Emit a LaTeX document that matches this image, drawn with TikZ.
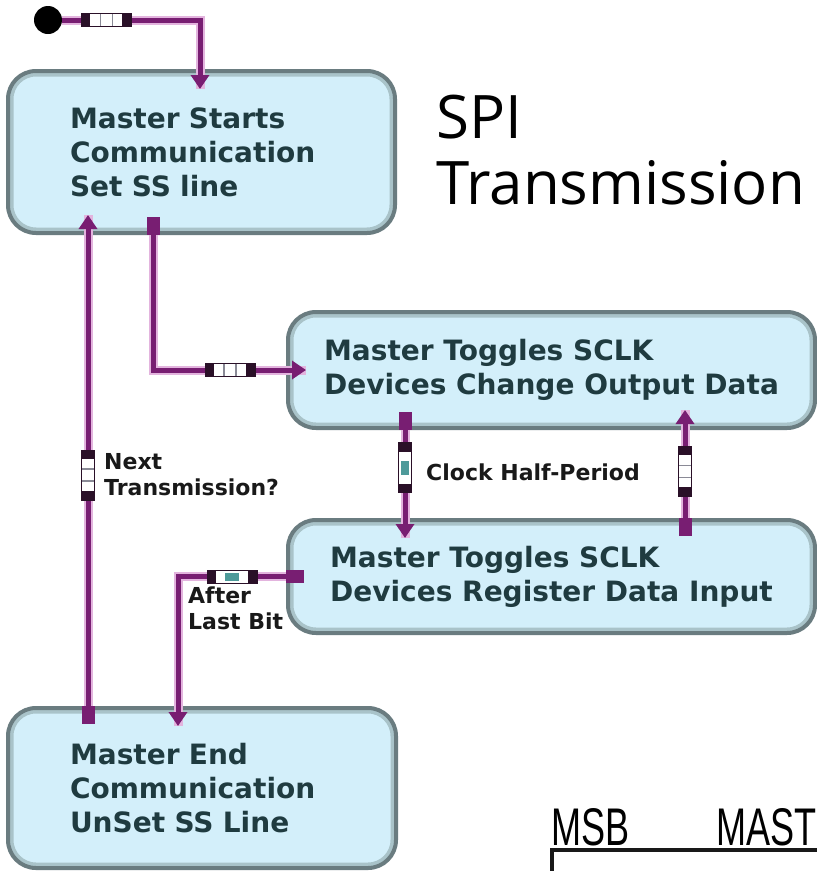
\documentclass[tikz,border=0pt]{standalone}
\usepackage{fontspec}
\setmainfont{DejaVu Sans}
\newfontfamily\titlefont{Open Sans}
\newfontfamily\condfont{Liberation Sans}
\usetikzlibrary{arrows.meta}
\definecolor{boxfill}{HTML}{D3EFFA}
\definecolor{boxedge}{HTML}{6A7C80}
\definecolor{boxrim}{HTML}{A9C3C9}
\definecolor{connc}{HTML}{781E72}
\definecolor{glow}{HTML}{E3B4DE}
\definecolor{markdark}{HTML}{2A1028}
\definecolor{markteal}{HTML}{4E9A9A}
\definecolor{markgray}{HTML}{8A8A96}
\definecolor{txt}{HTML}{1F3B40}
\begin{document}
\begin{tikzpicture}[x=1pt,y=-1pt,
  box/.style={draw=boxedge, line width=4pt, fill=boxfill, rounded corners=28pt,
    inner sep=0pt, font=\fontsize{28}{34}\selectfont\bfseries, text=txt, align=left,
    path picture={\draw[boxrim, line width=11pt, rounded corners=28pt]
      (path picture bounding box.south west) rectangle (path picture bounding box.north east);}},
  lbl/.style={inner sep=0pt, font=\fontsize{22}{26}\selectfont\bfseries, text=black!90, align=left},
  conn/.style={draw=connc, line width=5pt, preaction={draw=glow, line width=9pt, arrows=-}},
  tipend/.style={-{Triangle[width=18pt,length=14pt]}, shorten >=-20pt},
  tipboth/.style={{Square[width=13pt,length=18pt]}-{Triangle[width=18pt,length=14pt]},
    shorten <=-18pt, shorten >=-20pt},
  mk/.style={rectangle, inner sep=0pt, fill=white, draw=markdark, line width=0.8pt},
  hplain/.style={mk, minimum width=50pt, minimum height=13pt, path picture={
    \fill[markdark] (path picture bounding box.north west) rectangle ([xshift=9pt]path picture bounding box.south west);
    \fill[markdark] (path picture bounding box.north east) rectangle ([xshift=-9pt]path picture bounding box.south east);
    \draw[markgray, line width=1.5pt] ([xshift=-6pt]path picture bounding box.north) -- ([xshift=-6pt]path picture bounding box.south);
    \draw[markgray, line width=1.5pt] ([xshift=6pt]path picture bounding box.north) -- ([xshift=6pt]path picture bounding box.south);}},
  hteal/.style={mk, minimum width=50pt, minimum height=13pt, path picture={
    \fill[markdark] (path picture bounding box.north west) rectangle ([xshift=9pt]path picture bounding box.south west);
    \fill[markdark] (path picture bounding box.north east) rectangle ([xshift=-9pt]path picture bounding box.south east);
    \fill[markteal] ([xshift=-7pt,yshift=-4pt]path picture bounding box.center) rectangle ([xshift=7pt,yshift=4pt]path picture bounding box.center);}},
  vplain/.style={mk, minimum width=13pt, minimum height=50pt, path picture={
    \fill[markdark] (path picture bounding box.north west) rectangle ([yshift=-9pt]path picture bounding box.north east);
    \fill[markdark] (path picture bounding box.south west) rectangle ([yshift=9pt]path picture bounding box.south east);
    \draw[markgray, line width=1.5pt] ([yshift=-6pt]path picture bounding box.west) -- ([yshift=-6pt]path picture bounding box.east);
    \draw[markgray, line width=1.5pt] ([yshift=6pt]path picture bounding box.west) -- ([yshift=6pt]path picture bounding box.east);}},
  vteal/.style={mk, minimum width=13pt, minimum height=50pt, path picture={
    \fill[markdark] (path picture bounding box.north west) rectangle ([yshift=-9pt]path picture bounding box.north east);
    \fill[markdark] (path picture bounding box.south west) rectangle ([yshift=9pt]path picture bounding box.south east);
    \fill[markteal] ([xshift=-4pt,yshift=-7pt]path picture bounding box.center) rectangle ([xshift=4pt,yshift=7pt]path picture bounding box.center);}}
]
\useasboundingbox (0,0) rectangle (817,871);
\clip (0,0) rectangle (817,871);
\fill[white] (0,0) rectangle (817,871);

% boxes
\node[box, minimum width=387pt, minimum height=162pt, text width=263pt] (b1) at (201.5,152) {Master Starts\\Communication\\Set SS line};
\node[box, minimum width=527pt, minimum height=116pt] (b2) at (551.5,370) {Master Toggles SCLK\\Devices Change Output Data};
\node[box, minimum width=527pt, minimum height=113pt] (b3) at (551.5,576.5) {Master Toggles SCLK\\Devices Register Data Input};
\node[box, minimum width=388pt, minimum height=160pt, text width=264pt] (b4) at (202,788) {Master End\\Communication\\UnSet SS Line};

% start
\node[circle, fill=black, minimum size=28pt, inner sep=0pt] (start) at (48,20) {};

% title
\node[font=\titlefont\fontsize{60}{66}\selectfont, anchor=base west, inner sep=0pt] (t1) at (436,138) {SPI};
\node[font=\titlefont\fontsize{60}{66}\selectfont, anchor=base west, inner sep=0pt] (t2) at (436,204) {Transmission};

% connectors
\draw[conn, tipend] (start) -| (b1.north -| 200,0) node[hplain, pos=0.16] (m1) {};
\draw[conn, tipboth] (b1.south -| 153,0) |- (b2.west) node[hplain, pos=0.79] (m2) {};
\draw[conn, tipboth] (b4.north -| 88,0) -- (b1.south -| 88,0) node[vplain, pos=0.49] (m3) {};
\draw[conn, tipboth] (b2.south -| 405,0) -- (b3.north -| 405,0) node[vteal, pos=0.43] (m4) {};
\draw[conn, tipboth] (b3.north -| 685,0) -- (b2.south -| 685,0) node[vplain, pos=0.53] (m5) {};
\draw[conn, tipboth] (b3.west) -| (b4.north -| 178,0) node[hteal, pos=0.25] (m6) {};

% labels
\node[lbl, anchor=west] (l1) at (104,475) {Next\\Transmission?};
\node[lbl, anchor=west] (l2) at (426,472) {Clock Half-Period};
\node[lbl, anchor=north west] (l3) at (188,587) {After\\Last Bit};

% MSB fragment
\node[font=\condfont\fontsize{53}{53}\selectfont, anchor=base west, inner sep=0pt] (msb) at (551,845) {\scalebox{0.68}[1]{MSB}};
\node[font=\condfont\fontsize{53}{53}\selectfont, anchor=base west, inner sep=0pt] (mast) at (716,845) {\scalebox{0.68}[1]{MAST}};
\draw[line width=4pt, draw=black!90] (552,871) -- (552,850) -- (817,850);
\end{tikzpicture}
\end{document}
